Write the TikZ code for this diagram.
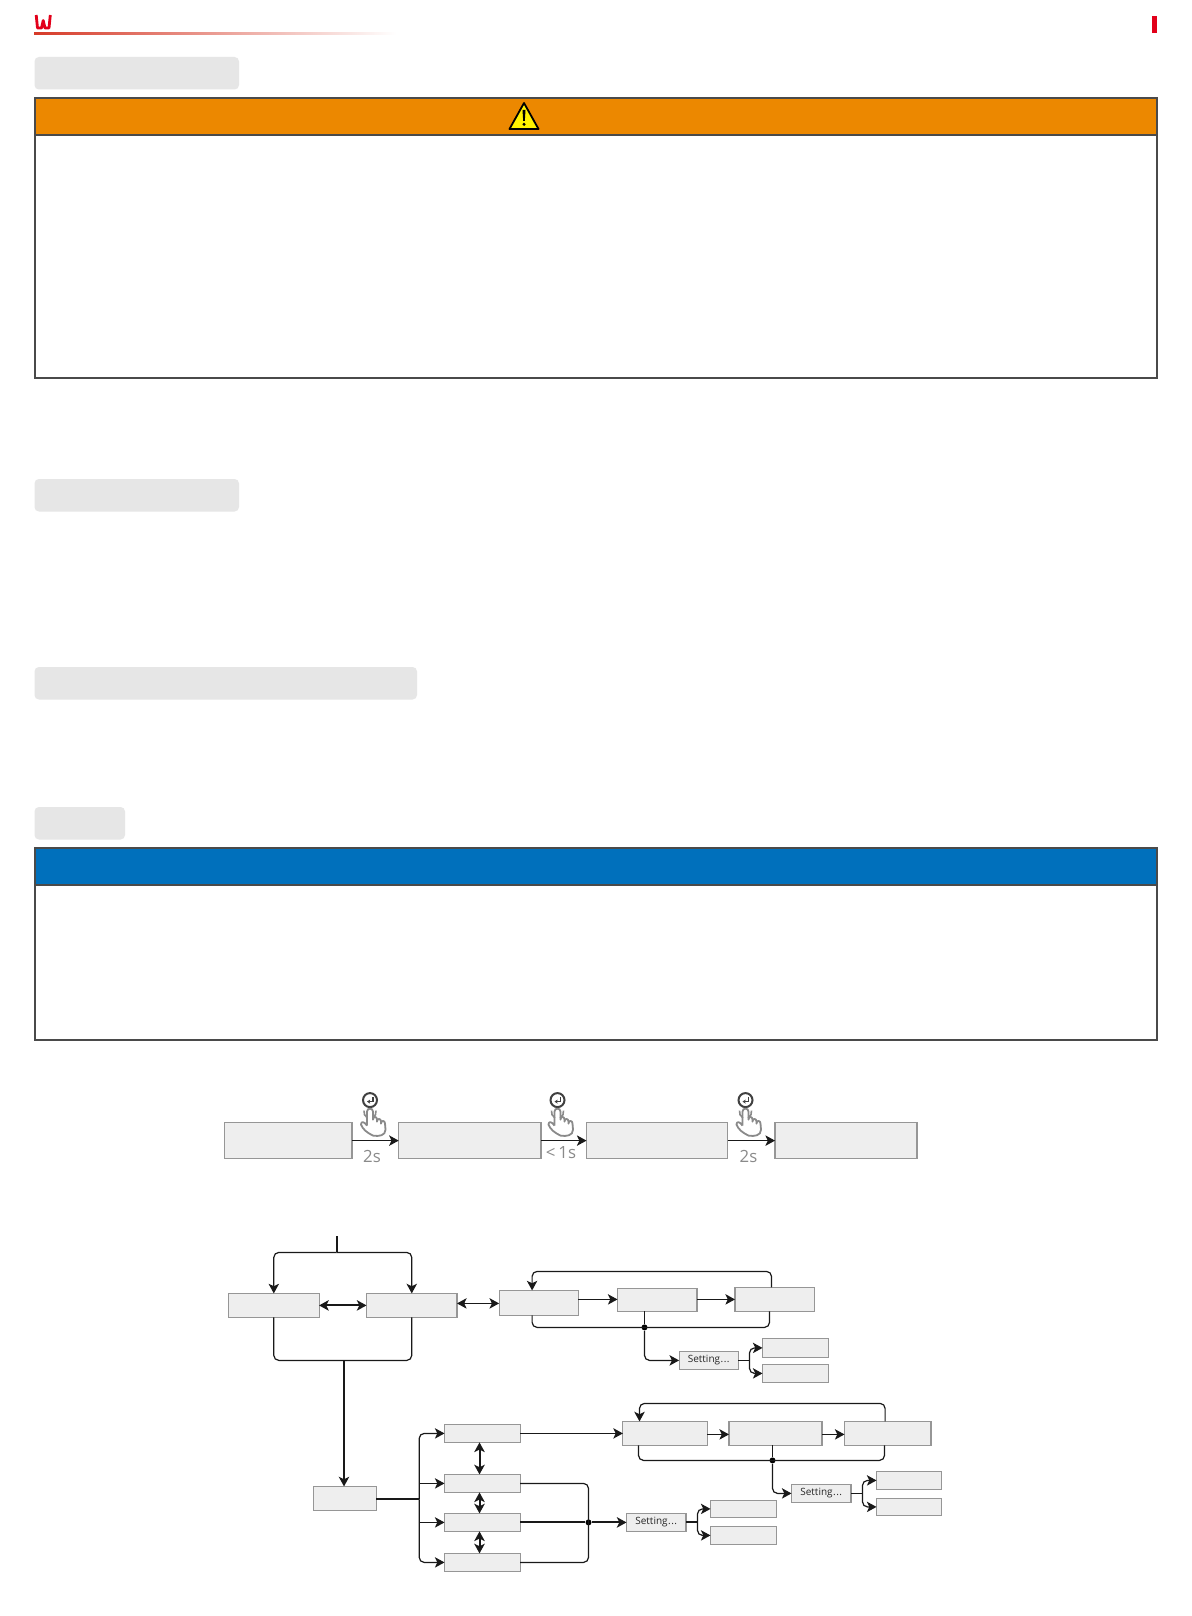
\documentclass[tikz,border=0pt]{standalone}
\usepackage{fontspec}
\setmainfont{Open Sans}
\usetikzlibrary{arrows.meta,calc}
\definecolor{boxfill}{HTML}{EEEEEE}
\definecolor{boxedge}{HTML}{969696}
\definecolor{barfill}{HTML}{E6E6E6}
\definecolor{brandred}{HTML}{E2001A}
\definecolor{linered}{HTML}{D63A28}
\definecolor{warnor}{HTML}{EC8800}
\definecolor{noteblue}{HTML}{0070BC}
\definecolor{frameedge}{HTML}{4A4A4A}
\definecolor{handgray}{HTML}{8A8A8A}
\newcommand\settingtext{Setting\kern0.25pt.\kern0.25pt.\kern0.25pt.}
\tikzset{
  bx/.style={draw=boxedge,fill=boxfill,line width=0.55pt,inner sep=0pt,outer sep=0pt,anchor=north west,font=\fontsize{5}{6}\selectfont,text=black!85},
  conn/.style={draw=black!90,line width=0.6pt},
  conb/.style={draw=black!90,line width=1pt},
  arrowed/.style={-{Stealth[length=4.8pt,width=5.2pt,inset=1.2pt]}},
  dbl/.style={{Stealth[length=4.8pt,width=5.2pt,inset=1.2pt]}-{Stealth[length=4.8pt,width=5.2pt,inset=1.2pt]}},
  rc/.style={rounded corners=2.5pt},
  dotn/.style={circle,fill=black,inner sep=0pt,minimum size=3pt},
  bar/.style={fill=barfill,rounded corners=2.2pt},
  frame/.style={draw=frameedge,line width=0.7pt},
  timing/.style={text=handgray,font=\fontsize{8.4}{9}\selectfont,inner sep=0pt}
}
\newcommand\bx[6]{\node[bx,minimum width={(#4-#2)*0.5pt},minimum height={(#5-#3)*0.5pt}] (#1) at (#2,#3) {#6};}
\newcommand\handicon[1]{%
\begin{scope}[shift={(#1,1106)}]
  \draw[draw=black!75,line width=1pt] (0,-6.5) circle[radius=7];
  \draw[draw=black!75,line width=0.6pt,-{Stealth[length=1.6pt,width=2pt]}] (3,-9.5) -- (3,-5) -- (-3,-5);
  \draw[handgray,line width=0.8pt] (-6,4) arc[start angle=190,end angle=120,radius=7];
  \draw[handgray,line width=0.8pt] (6,4) arc[start angle=-10,end angle=60,radius=7];
  \draw[handgray,line width=0.9pt,line join=round]
    (-3,19) -- (-3,5) .. controls (-3,1) and (3,1) .. (3,5) -- (3,13)
    .. controls (3,9.5) and (7,9.5) .. (7,13) -- (7,15)
    .. controls (7,11.5) and (11,11.5) .. (11,15) -- (11,17)
    .. controls (11,13.5) and (15,13.5) .. (15,17) -- (15.5,23)
    .. controls (15.5,29) and (9,30) .. (3,29)
    .. controls (-3,26) and (-7,23) .. (-9,18)
    .. controls (-9,14.5) and (-6,14.5) .. (-3,19);
\end{scope}}
\begin{document}
\begin{tikzpicture}[x=0.5pt,y=-0.5pt]
\useasboundingbox (0,0) rectangle (1191,1616);
\fill[white] (0,0) rectangle (1191,1616);
% header
\draw[brandred,line width=1.4pt,line join=round] (36.2,15) -- (37.5,28) -- (41.5,28) -- (43.2,20.5) -- (45,28) -- (49,28) -- (50.3,15);
\shade[left color=linered,right color=white] (34,32.2) rectangle (396,34.2);
\fill[brandred] (1152,16) rectangle (1157,33);
% section bars
\path[bar] (34.5,57) rectangle (239,89.5);
\path[bar] (34.5,479) rectangle (239,511.5);
\path[bar] (34.5,667) rectangle (417,699.5);
\path[bar] (34.5,807) rectangle (125,839.5);
% warning panel
\path[fill=warnor] (35,98) rectangle (1157,135);
\draw[frame] (35,98) rectangle (1157,378);
\draw[frame] (35,135) -- (1157,135);
\draw[line width=0.9pt,fill=yellow,line join=round] (524,103) -- (538.5,129) -- (509.5,129) -- cycle;
\fill[black] (522.5,110) -- (525.5,110) -- (524.8,121) -- (523.2,121) -- cycle;
\fill[black] (524,124.3) circle[radius=1.7];
% note panel
\path[fill=noteblue] (35,848) rectangle (1157,885);
\draw[frame] (35,848) rectangle (1157,1040);
\draw[frame] (35,885) -- (1157,885);
% flow 1
\begin{scope}[shift={(0,0.6)}]
\bx{fa}{224.6}{1122}{352}{1158}{}
\bx{fb}{398.7}{1122}{541}{1158}{}
\bx{fc}{586.5}{1122}{727.5}{1158}{}
\bx{fd}{775}{1122}{917}{1158}{}
\draw[conn,arrowed] (fa.east) -- (fb.west);
\draw[conn,arrowed] (fb.east) -- (fc.west);
\draw[conn,arrowed] (fc.east) -- (fd.west);
\handicon{370}
\handicon{557.5}
\handicon{745.5}
\node[timing] (t1) at (372,1156) {2s};
\node[timing] (t2) at (561,1152) {<\,1s};
\node[timing] (t3) at (748.5,1156) {2s};
\end{scope}
\begin{scope}[shift={(0.5,0.4)}]
% flow 2 upper
\bx{A}{228}{1293}{318.6}{1317}{}
\bx{B}{366}{1293}{456.5}{1317}{}
\bx{C}{498.6}{1290}{577.8}{1315}{}
\bx{D}{617}{1288}{696.5}{1311}{}
\bx{E}{734.5}{1287}{813.7}{1311}{}
\bx{S1}{678.6}{1351}{737.8}{1369}{\settingtext}
\bx{F}{762}{1338}{827.6}{1357}{}
\bx{G}{762}{1364}{827.6}{1382}{}
\coordinate (in) at (336,1236);
\coordinate (inb) at (336,1252);
\draw[conb] (in) -- (inb);
\draw[conn,arrowed,rc] (inb) -| (A.north);
\draw[conn,arrowed,rc] (inb) -| (B.north);
\draw[conb,dbl] (A.east) -- (B.west);
\draw[conn,dbl] (B.east |- 0,1303) -- (C.west |- 0,1303);
\draw[conn,arrowed] (C.east |- 0,1299) -- (D.west |- 0,1299);
\draw[conn,arrowed] (D.east |- 0,1299) -- (E.west |- 0,1299);
\draw[conn,arrowed,rc] (E.north -| 771,0) -- (771,1271) -- (531.6,1271) -- (C.north -| 531.6,0);
\node[dotn] (d1) at (644,1327) {};
\draw[conn,rc] (C.south -| 531.6,0) -- (531.6,1327) -- (769,1327) -- (E.south -| 769,0);
\draw[conn] (D.south -| d1) -- (d1);
\draw[conn,arrowed,rc] (d1) |- (S1.west);
\coordinate (s1b) at (749,1360);
\draw[conn] (S1.east) -- (s1b);
\draw[conn,arrowed,rc] (s1b) |- (F.west);
\draw[conn,arrowed,rc] (s1b) |- (G.west);
\coordinate (bot) at (343.5,1360);
\draw[conn,rc] (A.south) |- (bot) -| (B.south);
% flow 2 lower
\bx{H}{312.6}{1486}{375.8}{1510}{}
\bx{I}{444}{1424}{519.7}{1442}{}
\bx{J}{444}{1474}{519.7}{1492}{}
\bx{K}{444}{1513}{519.7}{1531}{}
\bx{L}{444}{1553}{519.7}{1571}{}
\bx{M}{622.4}{1421}{706.6}{1445}{}
\bx{N}{728.5}{1421}{821.5}{1445}{}
\bx{O}{844}{1421}{930.5}{1445}{}
\bx{S2}{791}{1484}{850.5}{1502}{\settingtext}
\bx{P}{876}{1471}{940.6}{1489}{}
\bx{Q}{876}{1498}{940.6}{1515}{}
\bx{S3}{626}{1513}{685.5}{1531}{\settingtext}
\bx{R}{710}{1500}{775.6}{1517}{}
\bx{T}{710}{1526}{775.6}{1544}{}
\draw[conn,arrowed] (bot) -- (bot |- H.north);
\coordinate (tr) at (418.7,1499);
\draw[conb] (H.east |- tr) -- (tr);
\draw[conn,arrowed,rc] (tr) |- (I.west);
\draw[conn,arrowed,rc] (tr) |- (L.west);
\draw[conn,arrowed] (tr |- J.west) -- (J.west);
\draw[conn,arrowed] (tr |- K.west) -- (K.west);
\draw[conb,dbl] (I.south -| 479,0) -- (J.north -| 479,0);
\draw[conb,dbl] (J.south -| 479,0) -- (K.north -| 479,0);
\draw[conb,dbl] (K.south -| 479,0) -- (L.north -| 479,0);
\draw[conn,arrowed] (I.east) -- (M.west |- I.east);
\draw[conn,arrowed] (M.east |- 0,1434) -- (N.west |- 0,1434);
\draw[conn,arrowed] (N.east |- 0,1434) -- (O.west |- 0,1434);
\draw[conn,arrowed,rc] (O.north -| 884.6,0) -- (884.6,1403) -- (639,1403) -- (M.north -| 639,0);
\node[dotn] (d2) at (772,1460) {};
\draw[conn,rc] (M.south -| 638,0) -- (638,1460) -- (884,1460) -- (O.south -| 884,0);
\draw[conn] (N.south -| d2) -- (d2);
\draw[conn,arrowed,rc] (d2) |- (S2.west);
\coordinate (s2b) at (862,1493);
\draw[conn] (S2.east) -- (s2b);
\draw[conn,arrowed,rc] (s2b) |- (P.west);
\draw[conn,arrowed,rc] (s2b) |- (Q.west);
\node[dotn] (d3) at (588,1522) {};
\draw[conn,rc] (J.east) -- (J.east -| d3) -- (L.east -| d3) -- (L.east);
\draw[conb] (K.east) -- (d3);
\draw[conb,arrowed] (d3) -- (S3.west);
\coordinate (s3b) at (697,1522);
\draw[conb] (S3.east) -- (s3b);
\draw[conn,arrowed,rc] (s3b) |- (R.west);
\draw[conn,arrowed,rc] (s3b) |- (T.west);
\end{scope}
\end{tikzpicture}
\end{document}
